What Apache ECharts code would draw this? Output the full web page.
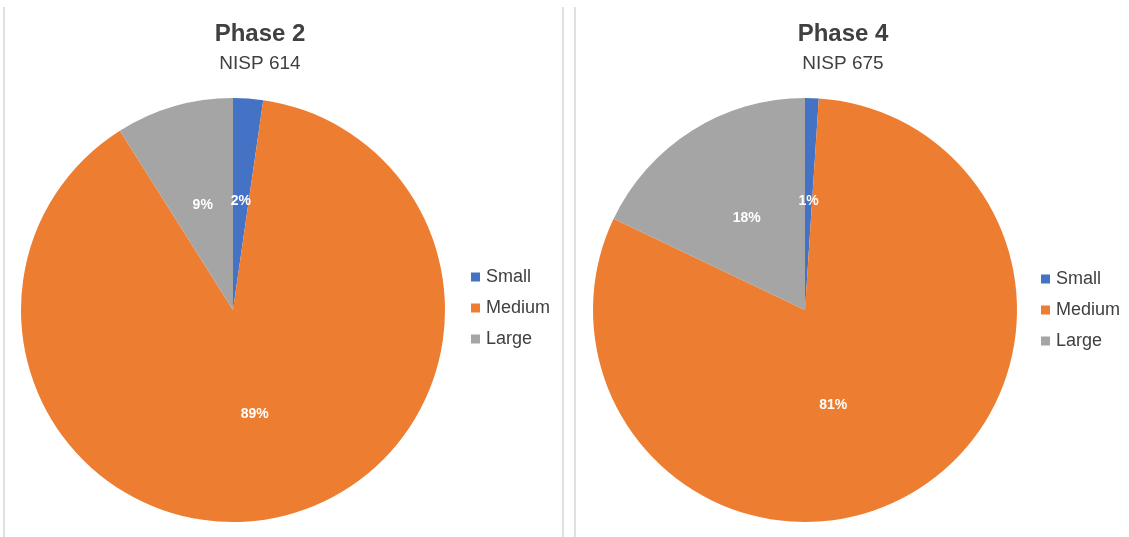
<!DOCTYPE html>
<html>
<head>
<meta charset="utf-8">
<script src="https://cdn.jsdelivr.net/npm/echarts@6/dist/echarts.min.js"></script>
<style>
  html, body { margin: 0; padding: 0; background: #fff; }
  #chart { width: 1129px; height: 537px; }
</style>
</head>
<body>
<div id="chart"></div>
<script>
// Size classes and specimen counts (NISP) per phase
const categories = ['Small', 'Medium', 'Large'];
const phase2Counts = [14, 545, 55];
const phase4Counts = [7, 547, 121];
const phaseTitles = ['Phase 2', 'Phase 4'];
const phaseSubtitles = ['NISP 614', 'NISP 675'];

const colors = ['#4472C4', '#ED7D31', '#A5A5A5'];
const textColor = '#404040';
const fontFamily = 'Liberation Sans, Arial, sans-serif';

const chart = echarts.init(document.getElementById('chart'), null, { renderer: 'canvas' });

// labelShift: optional per-slice nudge of the inside label (by slice index)
function toData(counts, labelShift) {
  return categories.map((name, i) => {
    const item = { name, value: counts[i] };
    if (labelShift && labelShift[i]) item.label = { offset: labelShift[i] };
    return item;
  });
}

function pieSeries(counts, center, labelShift) {
  return {
    type: 'pie',
    center: center,
    radius: [0, 212],
    startAngle: 90,
    clockwise: true,
    avoidLabelOverlap: false,
    silent: true,
    label: {
      show: true,
      position: 'inside',
      formatter: p => Math.round(p.percent) + '%',
      color: '#ffffff',
      fontWeight: 'bold',
      fontSize: 14,
      fontFamily: fontFamily
    },
    labelLine: { show: false },
    itemStyle: { borderWidth: 0 },
    data: toData(counts, labelShift)
  };
}

function legendAt(left, top) {
  return {
    orient: 'vertical',
    left: left,
    top: top,
    itemWidth: 9,
    itemHeight: 9,
    itemGap: 13,
    icon: 'rect',
    padding: 0,
    selectedMode: false,
    data: categories,
    textStyle: {
      color: textColor,
      fontSize: 18,
      lineHeight: 18,
      padding: [0, 0, 0, 1],
      fontFamily: fontFamily
    }
  };
}

const titleCommon = {
  textAlign: 'center',
  itemGap: 8,
  textStyle: { color: textColor, fontSize: 24, fontWeight: 'bold', fontFamily: fontFamily },
  subtextStyle: { color: textColor, fontSize: 19, fontFamily: fontFamily }
};

// Light vertical frame edges around the two chart panels
const frameLine = x => ({
  type: 'line',
  shape: { x1: x, y1: 7, x2: x, y2: 537 },
  style: { stroke: '#d6d6d6', lineWidth: 1.5 },
  silent: true
});

chart.setOption({
  animation: false,
  color: colors,
  title: [
    Object.assign({ text: phaseTitles[0], subtext: phaseSubtitles[0], left: 255, top: 17 }, titleCommon),
    Object.assign({ text: phaseTitles[1], subtext: phaseSubtitles[1], left: 838, top: 17 }, titleCommon)
  ],
  legend: [
    legendAt(471, 268),
    legendAt(1041, 270)
  ],
  graphic: [frameLine(4), frameLine(563), frameLine(575)],
  series: [
    pieSeries(phase2Counts, [233, 310], { 1: [-1, -2] }),
    pieSeries(phase4Counts, [805, 310], { 1: [-27, 1] })
  ]
});
</script>
</body>
</html>
